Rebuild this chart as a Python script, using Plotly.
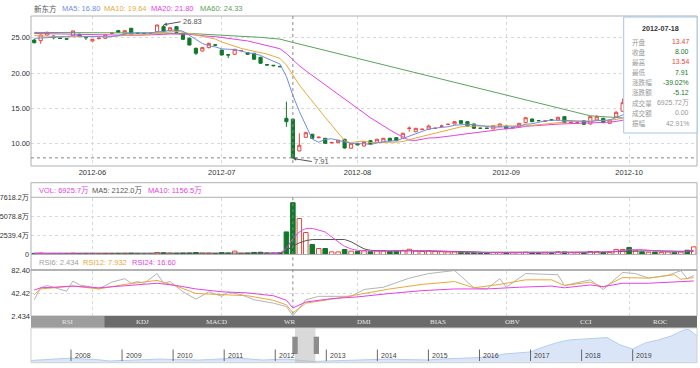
import plotly.graph_objects as go
import pandas as pd

W, H = 700, 368
def fx(px): return px / W
def fy(py): return 1 - py / H

# ---------------- categories (trading days) ----------------
skip = {'2012-05-28', '2012-06-15', '2012-07-04', '2012-09-03'}
dates = [d.strftime('%Y-%m-%d') for d in pd.bdate_range('2012-05-18', '2012-10-15')
         if d.strftime('%Y-%m-%d') not in skip]
month_ticks = ['2012-06-01', '2012-07-02', '2012-08-01', '2012-09-04', '2012-10-01']
month_labels = ['2012-06', '2012-07', '2012-08', '2012-09', '2012-10']

# ---------------- OHLC ----------------
opens = [24.67, 24.58, 25.38, 25.24, 24.95, 24.85, 25.28, 25.48, 25.02, 24.53,
         24.88, 24.92, 25.60, 26.00, 25.52, 26.33, 25.65, 25.62, 25.60, 25.85,
         26.56, 25.99, 26.56, 25.62, 24.92, 23.50, 23.12, 23.59, 24.00, 23.26,
         22.60, 22.65, 23.15, 22.88, 22.80, 22.23, 21.20, 21.10, 20.95, 13.60,
         13.47, 8.98, 10.91, 11.34, 10.85, 10.77, 10.12, 10.15, 10.63, 9.36,
         10.06, 9.68, 10.43, 10.20, 10.20, 10.77, 10.86, 10.77, 12.15, 11.70,
         12.00, 12.04, 12.15, 12.45, 12.72, 12.79, 13.26, 13.12, 12.79, 12.20,
         12.20, 12.09, 12.41, 12.50, 12.25, 12.41, 12.98, 13.50, 13.28, 13.18,
         13.38, 13.36, 13.83, 13.00, 12.98, 13.26, 12.79, 13.36, 13.60, 12.89,
         13.80, 14.60, 15.90, 15.30, 15.70, 15.50, 15.60, 15.40, 15.50, 15.60,
         15.40, 15.80, 15.50]
closes = [24.29, 25.38, 25.76, 25.00, 24.90, 24.80, 25.95, 25.24, 25.00, 24.77,
          24.92, 25.38, 25.65, 25.76, 25.99, 25.52, 25.60, 25.58, 25.64, 26.80,
          25.85, 26.41, 25.76, 24.77, 23.97, 22.80, 23.59, 24.20, 23.95, 22.55,
          22.55, 23.36, 23.18, 22.65, 21.95, 21.38, 21.14, 21.04, 20.90, 13.12,
          8.00, 9.78, 11.56, 10.77, 10.92, 10.06, 10.18, 10.50, 9.40, 10.06,
          9.82, 10.29, 9.92, 10.63, 10.77, 10.40, 10.43, 11.48, 12.20, 12.18,
          12.05, 12.50, 12.18, 12.50, 12.75, 13.12, 12.89, 12.50, 12.18, 12.18,
          12.18, 12.55, 12.79, 12.13, 12.27, 12.89, 13.68, 13.12, 13.26, 13.20,
          13.36, 13.74, 12.98, 13.03, 13.00, 12.75, 13.83, 13.83, 12.98, 13.36,
          14.45, 15.80, 15.30, 15.70, 15.50, 15.60, 15.40, 15.50, 15.60, 15.40,
          15.80, 15.50, 16.30]
highs = [24.80, 25.42, 25.85, 25.30, 25.00, 24.90, 26.00, 25.55, 25.24, 24.82,
         25.00, 25.42, 25.80, 26.05, 26.05, 26.40, 25.70, 25.68, 25.70, 26.82,
         26.83, 26.50, 26.60, 25.70, 25.00, 23.60, 23.70, 24.30, 24.05, 23.30,
         22.70, 23.40, 23.25, 22.95, 22.85, 22.30, 21.25, 21.15, 21.00, 15.95,
         13.54, 11.48, 11.70, 11.40, 11.00, 10.80, 10.25, 10.55, 10.70, 10.10,
         10.10, 10.35, 10.50, 10.70, 10.80, 10.85, 10.90, 11.55, 12.45, 12.25,
         12.15, 12.70, 12.30, 12.70, 12.85, 13.20, 13.30, 13.15, 12.85, 12.25,
         12.25, 12.60, 12.85, 12.55, 12.35, 12.95, 13.75, 13.55, 13.35, 13.30,
         13.45, 13.80, 13.90, 13.30, 13.10, 13.30, 13.90, 14.07, 13.65, 13.40,
         14.60, 16.40, 16.00, 15.90, 15.80, 15.70, 15.70, 15.60, 15.70, 15.70,
         15.90, 15.90, 16.40]
lows = [24.20, 24.15, 25.30, 24.77, 24.85, 24.75, 25.20, 25.20, 24.67, 24.50,
        24.75, 24.90, 25.50, 25.70, 25.45, 25.45, 25.55, 25.50, 25.55, 25.80,
        25.80, 25.90, 25.70, 24.70, 23.90, 22.55, 23.05, 23.50, 23.85, 22.50,
        22.10, 22.60, 23.10, 22.60, 21.90, 21.30, 21.05, 20.95, 20.85, 12.40,
        7.91, 8.90, 10.85, 10.70, 10.80, 10.00, 10.05, 10.10, 9.30, 9.30,
        9.78, 9.60, 9.85, 10.15, 10.15, 10.35, 10.40, 10.70, 11.70, 11.65,
        11.95, 12.00, 12.10, 12.40, 12.65, 12.75, 12.85, 12.45, 12.10, 12.10,
        12.10, 12.05, 12.35, 12.05, 12.20, 12.35, 12.90, 13.05, 13.20, 13.10,
        13.30, 13.30, 12.90, 12.90, 12.90, 12.70, 12.75, 13.30, 12.90, 12.85,
        13.70, 14.50, 15.20, 15.20, 15.40, 15.30, 15.30, 15.30, 15.40, 15.30,
        15.30, 15.40, 15.40]

# ---------------- moving averages (read) ----------------
ma5 = [24.90, 24.95, 25.05, 25.05, 25.07, 25.17, 25.28, 25.18, 25.18, 25.15,
       25.18, 25.06, 25.14, 25.30, 25.54, 25.66, 25.70, 25.69, 25.67, 25.83,
       25.89, 26.06, 26.09, 25.92, 25.35, 24.74, 24.18, 23.87, 23.70, 23.42,
       23.37, 23.32, 23.12, 22.86, 22.74, 22.50, 22.06, 21.63, 21.28, 19.52,
       16.84, 14.57, 12.67, 10.65, 10.21, 10.62, 10.70, 10.49, 10.21, 10.04,
       9.99, 10.01, 9.90, 10.14, 10.29, 10.40, 10.43, 10.74, 11.06, 11.34,
       11.67, 12.08, 12.22, 12.28, 12.40, 12.61, 12.69, 12.75, 12.69, 12.57,
       12.39, 12.32, 12.38, 12.37, 12.38, 12.53, 12.75, 12.82, 13.04, 13.23,
       13.32, 13.34, 13.31, 13.26, 13.22, 13.10, 13.12, 13.29, 13.28, 13.35,
       13.69, 14.08, 14.60, 15.00, 15.30, 15.50, 15.50, 15.50, 15.50, 15.50,
       15.55, 15.55, 15.70]
ma10 = [25.30, 25.25, 25.20, 25.15, 25.10, 25.10, 25.12, 25.12, 25.10, 25.11,
        25.17, 25.17, 25.16, 25.24, 25.35, 25.42, 25.38, 25.42, 25.48, 25.68,
        25.78, 25.88, 25.89, 25.79, 25.59, 25.32, 25.12, 24.98, 24.81, 24.39,
        24.06, 23.75, 23.49, 23.28, 23.08, 22.94, 22.69, 22.38, 22.07, 21.13,
        19.67, 18.31, 17.15, 15.96, 14.86, 13.73, 12.63, 11.58, 10.43, 10.12,
        10.31, 10.36, 10.19, 10.18, 10.16, 10.20, 10.22, 10.32, 10.60, 10.81,
        11.04, 11.26, 11.48, 11.67, 11.87, 12.14, 12.39, 12.49, 12.49, 12.49,
        12.50, 12.50, 12.56, 12.53, 12.48, 12.46, 12.54, 12.60, 12.71, 12.81,
        12.93, 13.04, 13.06, 13.15, 13.23, 13.21, 13.23, 13.30, 13.27, 13.29,
        13.40, 13.60, 13.80, 14.00, 14.20, 14.40, 14.60, 14.80, 15.00, 15.20,
        15.30, 15.50, 15.60]
ma20 = [25.60, 25.58, 25.55, 25.52, 25.50, 25.47, 25.45, 25.42, 25.40, 25.37,
        25.35, 25.33, 25.32, 25.32, 25.33, 25.34, 25.35, 25.36, 25.38, 25.40,
        25.47, 25.53, 25.53, 25.51, 25.47, 25.37, 25.25, 25.20, 25.15, 25.03,
        24.92, 24.82, 24.69, 24.54, 24.33, 24.13, 23.90, 23.68, 23.44, 22.76,
        21.86, 21.03, 20.32, 19.62, 18.97, 18.33, 17.66, 16.98, 16.25, 15.63,
        14.99, 14.34, 13.67, 13.07, 12.51, 11.96, 11.43, 10.95, 10.51, 10.47,
        10.67, 10.81, 10.84, 10.92, 11.02, 11.17, 11.30, 11.40, 11.54, 11.65,
        11.77, 11.88, 12.02, 12.10, 12.17, 12.30, 12.46, 12.54, 12.60, 12.65,
        12.71, 12.77, 12.81, 12.84, 12.85, 12.83, 12.88, 12.95, 12.99, 13.05,
        13.16, 13.32, 13.50, 13.65, 13.80, 13.95, 14.10, 14.25, 14.40, 14.50,
        14.60, 14.70, 14.80]
ma60_idx = [0, 10, 20, 25, 30, 35, 38, 39, 40, 86, 91, 102]
ma60_val = [25.75, 25.72, 25.65, 25.55, 25.35, 25.05, 24.80, 24.60, 24.33, 13.95, 13.65, 13.30]

# ---------------- volume (万) ----------------
vol = [150, 180, 120, 110, 90, 100, 160, 120, 110, 100,
       90, 130, 120, 110, 140, 160, 90, 80, 100, 260,
       230, 180, 160, 190, 200, 270, 180, 170, 120, 250,
       200, 450, 150, 180, 280, 300, 200, 190, 230, 3020,
       6925.72, 4810, 2940, 1340, 800, 800, 350, 350, 670, 450,
       420, 500, 380, 480, 520, 400, 420, 550, 700, 480,
       420, 500, 400, 380, 330, 350, 300, 250, 280, 220,
       240, 260, 230, 250, 220, 260, 300, 240, 220, 200,
       250, 350, 330, 240, 220, 250, 400, 380, 260, 240,
       670, 670, 940, 480, 350, 300, 320, 280, 330, 300,
       330, 570, 1020]
vma5_idx = [0, 38, 39, 40, 41, 42, 43, 44, 45, 46, 47, 48, 49, 50, 52, 55, 58, 62, 66, 70, 80, 85, 88, 90, 92, 94, 97, 100, 102]
vma5_val = [150, 240, 850, 2122, 3000, 3450, 3480, 3250, 3000, 2350, 1700, 1100, 750, 560, 470, 460, 520, 480, 330, 260, 260, 300, 360, 430, 620, 640, 420, 350, 560]
vma10_idx = [0, 38, 39, 40, 41, 42, 43, 44, 46, 48, 49, 50, 51, 52, 54, 58, 62, 66, 70, 80, 88, 92, 96, 100, 102]
vma10_val = [170, 190, 470, 1156.5, 1550, 1850, 2000, 2010, 2010, 2005, 1700, 1243, 750, 560, 480, 490, 470, 400, 300, 260, 320, 450, 500, 430, 440]

# ---------------- RSI (read) ----------------
rsi6_idx = [0, 1, 2, 4, 5, 6, 7, 9, 10, 12, 14, 15, 16, 17, 19, 20, 21, 23, 25, 27, 29, 30, 32, 34, 37, 39, 40,
            42, 44, 49, 51, 54, 58, 61, 64, 65, 68, 70, 72, 73, 76, 81, 82, 86, 88, 91, 93, 95, 98, 100, 101, 102]
rsi6_val = [31, 52, 56, 50, 46, 64, 57, 53, 50, 62, 68, 60, 63, 60, 77, 60, 63, 45, 32, 45, 37, 44, 40, 31, 25, 19, 2.434,
            31, 37, 37, 49, 53, 69, 77, 82, 82.4, 52, 50, 68, 53, 77, 75, 56, 66, 49, 79, 77, 69, 74, 82, 68, 74]
rsi12_idx = [0, 1, 3, 6, 10, 14, 19, 22, 25, 29, 33, 37, 39, 40, 42, 46, 50, 55, 60, 65, 68, 72, 76, 80, 82, 86, 88, 91, 95, 99, 100, 102]
rsi12_val = [40, 50, 52, 55, 50, 58, 65, 55, 42, 40, 38, 30, 22, 7.932, 25, 32, 40, 50, 58, 63, 52, 58, 66, 66, 56, 62, 53, 70, 69, 75, 67, 70]
rsi24_idx = [0, 1, 3, 6, 10, 14, 19, 22, 25, 29, 33, 37, 39, 40, 42, 46, 50, 55, 60, 65, 70, 75, 80, 82, 86, 88, 91, 95, 99, 102]
rsi24_val = [48, 52, 53, 55, 52, 55, 60, 56, 50, 45, 43, 38, 30, 16.60, 27, 33, 36, 42, 47, 50, 50, 53, 55, 52, 57, 54, 60, 60, 62, 64]

# ---------------- overview (dataZoom) ----------------
ov_t = [2007.22, 2007.5, 2007.75, 2008.0, 2008.25, 2008.5, 2008.75, 2009.0, 2009.25, 2009.5,
        2009.75, 2010.0, 2010.25, 2010.5, 2010.75, 2011.0, 2011.25, 2011.5, 2011.75, 2012.0,
        2012.25, 2012.5, 2012.75, 2013.0, 2013.25, 2013.5, 2013.75, 2014.0, 2014.25, 2014.5,
        2014.75, 2015.0, 2015.25, 2015.5, 2015.75, 2016.0, 2016.25, 2016.5, 2016.75, 2017.0,
        2017.25, 2017.5, 2017.75, 2018.0, 2018.25, 2018.5, 2018.75, 2019.0, 2019.25, 2019.5,
        2019.75, 2020.0, 2020.1, 2020.26]
ov_v = [9, 13, 17, 19, 15, 13, 7, 9, 11, 13,
        15, 13, 11, 11, 13, 17, 19, 15, 11, 13,
        15, 9, 5, 7, 9, 11, 13, 13, 15, 13,
        13, 11, 15, 17, 21, 21, 27, 36, 40, 44,
        64, 81, 93, 97, 101, 103, 73, 56, 81, 93,
        109, 134, 136, 109]
years = list(range(2008, 2020))

# ---------------- colours ----------------
RED = '#e8463c'
GREEN = '#11782a'
C_MA5 = '#6e8ee6'
C_MA10 = '#eaa83a'
C_MA20 = '#e640e6'
C_MA60 = '#5ba35b'
FONT = 'Liberation Sans, Arial, Noto Sans CJK SC, sans-serif'

fig = go.Figure()

fig.add_trace(go.Candlestick(
    x=dates, open=opens, high=highs, low=lows, close=closes,
    increasing=dict(line=dict(color=RED, width=1), fillcolor='white'),
    decreasing=dict(line=dict(color=GREEN, width=1), fillcolor=GREEN),
    whiskerwidth=0, xaxis='x', yaxis='y', hoverinfo='skip', showlegend=False))

fig.add_trace(go.Scatter(x=[dates[i] for i in ma60_idx], y=ma60_val, mode='lines',
                         line=dict(color=C_MA60, width=1), xaxis='x', yaxis='y', hoverinfo='skip'))
for arr, col in [(ma20, C_MA20), (ma10, C_MA10), (ma5, C_MA5)]:
    fig.add_trace(go.Scatter(x=dates, y=arr, mode='lines', line=dict(color=col, width=1),
                             xaxis='x', yaxis='y', hoverinfo='skip'))

up = [c >= o for o, c in zip(opens, closes)]
fig.add_trace(go.Bar(
    x=dates, y=vol, xaxis='x2', yaxis='y2', hoverinfo='skip',
    marker=dict(color=['white' if u else GREEN for u in up],
                line=dict(color=[RED if u else GREEN for u in up], width=1))))
fig.add_trace(go.Scatter(x=[dates[i] for i in vma10_idx], y=vma10_val, mode='lines',
                         line=dict(color='#555555', width=1), xaxis='x2', yaxis='y2', hoverinfo='skip'))
fig.add_trace(go.Scatter(x=[dates[i] for i in vma5_idx], y=vma5_val, mode='lines',
                         line=dict(color=C_MA20, width=1, shape='spline', smoothing=0.6),
                         xaxis='x2', yaxis='y2', hoverinfo='skip'))

for ids, vals, col in [(rsi6_idx, rsi6_val, '#b4b4b4'), (rsi12_idx, rsi12_val, C_MA10), (rsi24_idx, rsi24_val, C_MA20)]:
    fig.add_trace(go.Scatter(x=[dates[i] for i in ids], y=vals, mode='lines',
                             line=dict(color=col, width=1), xaxis='x3', yaxis='y3', hoverinfo='skip'))

fig.add_trace(go.Scatter(x=ov_t, y=ov_v, mode='lines', fill='tozeroy',
                         line=dict(color='#b5cdee', width=1), fillcolor='rgba(205,222,246,0.75)',
                         xaxis='x4', yaxis='y4', hoverinfo='skip'))

xdom = [fx(31), fx(697)]
tickfont = dict(family=FONT, size=7.5, color='#333333')
cat_x = dict(type='category', categoryorder='array', categoryarray=dates, range=[-0.5, len(dates) - 0.5],
             domain=xdom, showgrid=True, gridcolor='#d9d9d9', griddash='dot', gridwidth=1,
             tickvals=month_ticks, ticktext=month_labels, zeroline=False, ticks='', automargin=False,
             showline=False, fixedrange=True, rangeslider=dict(visible=False), tickfont=tickfont)
ycommon = dict(showgrid=True, gridcolor='#d9d9d9', griddash='dot', gridwidth=1, zeroline=False,
               ticks='', showline=False, fixedrange=True, tickfont=tickfont, automargin=False)

layout = dict(
    width=W, height=H, margin=dict(l=0, r=0, t=0, b=0, autoexpand=False),
    paper_bgcolor='white', plot_bgcolor='white', showlegend=False,
    bargap=0.3, boxgap=0.3,
    xaxis=dict(cat_x, anchor='y', showticklabels=True),
    yaxis=dict(ycommon, domain=[fy(166), fy(16)], range=[6.85, 28.07], anchor='x',
               tickvals=[10, 15, 20, 25], ticktext=['10.00', '15.00', '20.00', '25.00']),
    xaxis2=dict(cat_x, anchor='y2', showticklabels=False),
    yaxis2=dict(ycommon, domain=[fy(254.5), fy(197.5)], range=[0, 7618.2], anchor='x2',
                tickvals=[0, 2539.4, 5078.8, 7618.2], ticktext=['0', '2539.4万', '5078.8万', '7618.2万'],
                tickfont=dict(family=FONT, size=7.2, color='#333333'), ticklabelstandoff=1),
    xaxis3=dict(cat_x, anchor='y3', showticklabels=False),
    yaxis3=dict(ycommon, domain=[fy(316), fy(270.5)], range=[2.434, 82.40], anchor='x3',
                tickvals=[2.434, 42.417, 82.40], ticktext=['2.434', '42.42', '82.40']),
    xaxis4=dict(domain=xdom, range=[2007.217, 2020.26], anchor='y4', visible=False, fixedrange=True),
    yaxis4=dict(domain=[fy(362.7), fy(328.5)], range=[0, 140], anchor='x4', visible=False, fixedrange=True),
)
fig.update_layout(**layout)

shapes = []
ann = []
def rect(x0, y0, x1, y1, fill=None, line='#b0b0b0', lw=1):
    shapes.append(dict(type='rect', xref='paper', yref='paper', x0=fx(x0), x1=fx(x1), y0=fy(y1), y1=fy(y0),
                       fillcolor=fill if fill else 'rgba(0,0,0,0)', line=dict(color=line, width=lw if line else 0),
                       layer='above'))
def hline(x0, x1, y, color='#b0b0b0', lw=1, dash='solid'):
    shapes.append(dict(type='line', xref='paper', yref='paper', x0=fx(x0), x1=fx(x1), y0=fy(y), y1=fy(y),
                       line=dict(color=color, width=lw, dash=dash), layer='above'))
def vline(x, y0, y1, color='#b0b0b0', lw=1, dash='solid'):
    shapes.append(dict(type='line', xref='paper', yref='paper', x0=fx(x), x1=fx(x), y0=fy(y0), y1=fy(y1),
                       line=dict(color=color, width=lw, dash=dash), layer='above'))
def text(x, y, s, color='#333', size=7.5, anchor='left', bold=False, family=FONT):
    ann.append(dict(xref='paper', yref='paper', x=fx(x), y=fy(y), text=('<b>%s</b>' % s) if bold else s,
                    showarrow=False, xanchor=anchor, yanchor='middle',
                    font=dict(family=family, size=size, color=color)))

# panel frames
rect(31, 16, 697, 166)
rect(31, 182.7, 697, 254.5)
hline(31, 697, 197.3)
rect(31, 254.5, 697, 316)
hline(31, 697, 270, color='#999999', lw=1.5)

# crosshair (at 2012-07-18) and close level
xcross = 31 + (40 + 0.5) * 666 / 103
vline(xcross, 16, 166, color='#888888', dash='dot')
vline(xcross, 197.3, 316, color='#888888', dash='dot')
shapes.append(dict(type='line', xref='paper', yref='y', x0=fx(31), x1=fx(697), y0=8.00, y1=8.00,
                   line=dict(color='#888888', width=1, dash='dot'), layer='above'))

# legends
text(31.5, 8.5, '新东方', color='#555555')
text(60, 8.5, 'MA5: 16.80', color=C_MA5)
text(102, 8.5, 'MA10: 19.64', color=C_MA10)
text(149, 8.5, 'MA20: 21.80', color=C_MA20)
text(198, 8.5, 'MA60: 24.33', color=C_MA60)
text(37, 190, 'VOL: 6925.7万', color=C_MA20)
text(90, 190, 'MA5: 2122.0万', color='#555555')
text(146, 190, 'MA10: 1156.5万', color=C_MA20)
text(37, 262.7, 'RSI6: 2.434', color='#a0a0a0')
text(81, 262.7, 'RSI12: 7.932', color=C_MA10)
text(130, 262.7, 'RSI24: 16.60', color=C_MA20)

# max / min markers
ann.append(dict(x=dates[20], y=26.83, xref='x', yref='y', text='26.83', showarrow=True, arrowhead=2,
                arrowsize=0.7, arrowwidth=1, arrowcolor='#555', ax=17, ay=-3, xanchor='left', yanchor='middle',
                font=dict(family=FONT, size=7.5, color='#555')))
ann.append(dict(x=dates[40], y=7.91, xref='x', yref='y', text='7.91', showarrow=True, arrowhead=2,
                arrowsize=0.7, arrowwidth=1, arrowcolor='#555', ax=19, ay=3, xanchor='left', yanchor='middle',
                font=dict(family=FONT, size=7.5, color='#555')))

# tooltip box
rect(623.7, 17, 697, 133, fill='white', line='#a9c6e2')
text(660.5, 28, '2012-07-18', color='#333', bold=True, anchor='center', size=7.2)
tip_labels = ['开盘', '收盘', '最高', '最低', '涨跌幅', '涨跌额', '成交量', '成交额', '振幅']
tip_values = ['13.47', '8.00', '13.54', '7.91', '-39.02%', '-5.12', '6925.72万', '0.00', '42.91%']
tip_colors = [RED, GREEN, RED, GREEN, GREEN, GREEN, '#999999', '#999999', '#999999']
for k, (lab, val, col) in enumerate(zip(tip_labels, tip_values, tip_colors)):
    yy = 41.5 + 10.2 * k
    text(629.5, yy, lab, color='#999999', family='Noto Sans CJK SC', size=6.6)
    text(691, yy, val, color=col, anchor='right', size=6.9)

# indicator tabs
rect(31, 316, 697, 328, fill='#6b6b6b', line=None, lw=0)
rect(31, 316, 104.5, 328, fill='#9d9d9d', line=None, lw=0)
tabs = ['RSI', 'KDJ', 'MACD', 'WR', 'DMI', 'BIAS', 'OBV', 'CCI', 'ROC']
for k, t in enumerate(tabs):
    text(31 + 74 * (k + 0.5), 322, t, color='#e6e6e6', size=7, anchor='center', family='Liberation Serif')

# overview frame, years, selection window
rect(31, 328, 697, 362.7, line='#d0d0d0')
for yv in years:
    xp = 71 + (yv - 2008) * 51.06
    vline(xp, 349.5, 361, color='#666666')
    text(xp + 1.5, 355.7, str(yv), color='#444444', size=7)
rect(295, 328.3, 315.5, 362.7, fill='rgba(185,185,185,0.55)', line=None, lw=0)
rect(292.3, 336.7, 297.7, 354, fill='#8c8c8c', line=None, lw=0)
rect(313.7, 336.7, 319, 354, fill='#8c8c8c', line=None, lw=0)

fig.update_layout(shapes=shapes, annotations=ann)
fig.write_html('out.html', config={'displayModeBar': False},
               post_script="document.body.style.margin='0';document.body.style.overflow='hidden';")
